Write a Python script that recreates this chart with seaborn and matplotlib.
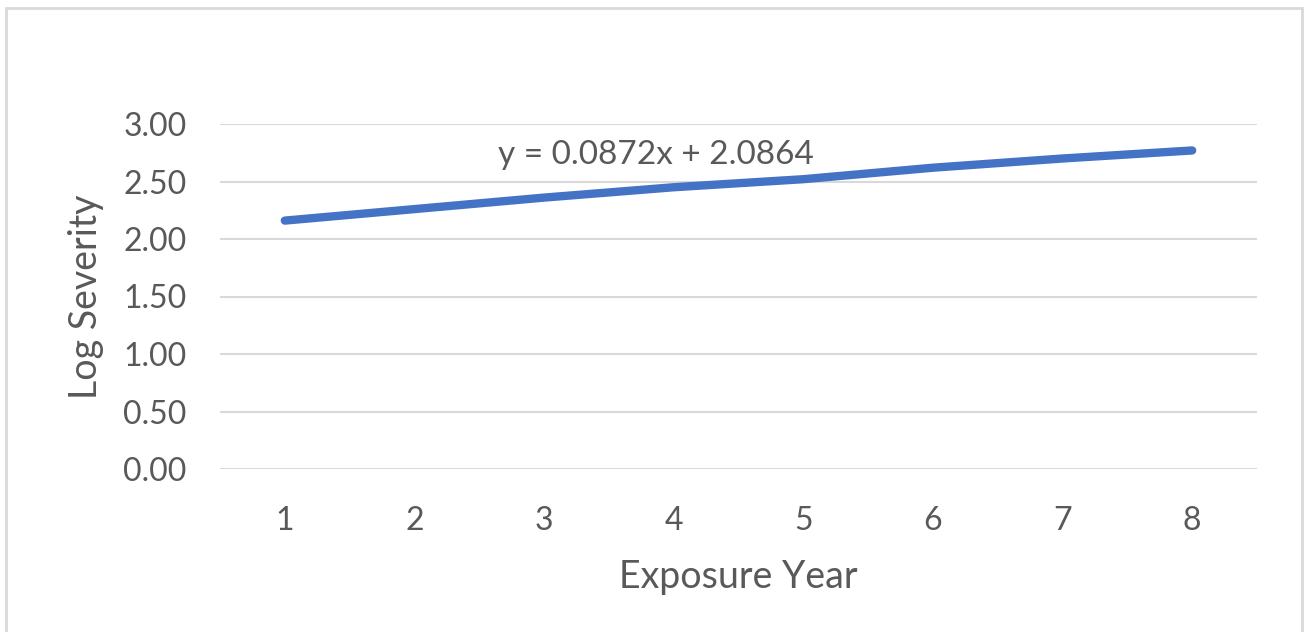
import matplotlib
matplotlib.use("Agg")
import matplotlib.pyplot as plt
import matplotlib.patches as patches
import pandas as pd
import seaborn as sns

exposure_year = [1, 2, 3, 4, 5, 6, 7, 8]
log_severity = [2.16, 2.26, 2.36, 2.45, 2.52, 2.62, 2.70, 2.77]
y_ticks = [0.0, 0.5, 1.0, 1.5, 2.0, 2.5, 3.0]
trend_label = "y = 0.0872x + 2.0864"

sns.set_style("white")
plt.rcParams['font.family'] = ['Lato', 'DejaVu Sans']
text_grey = '#595959'

df = pd.DataFrame({'Exposure Year': exposure_year, 'Log Severity': log_severity})

fig = plt.figure(figsize=(13.04, 6.32), dpi=100)
ax = fig.add_axes([220 / 1304, 1 - 469 / 632, (1257 - 220) / 1304, (469 - 124) / 632])

for yt in y_ticks:
    ax.axhline(yt, color='#D9D9D9', lw=1.5, zorder=0)

sns.lineplot(data=df, x='Exposure Year', y='Log Severity', ax=ax,
             color='#4472C4', lw=6, solid_capstyle='round')

ax.set_xlim(0.5, 8.5)
ax.set_ylim(0, 3.0)
ax.set_xticks(exposure_year)
ax.set_yticks(y_ticks)
ax.set_yticklabels([f'{v:.2f}' for v in y_ticks])
ax.tick_params(axis='both', length=0, labelsize=23, colors=text_grey)
ax.tick_params(axis='x', pad=27)
ax.tick_params(axis='y', pad=24)
for s in ax.spines.values():
    s.set_visible(False)
ax.set_xlabel('Exposure Year', fontsize=27, color=text_grey, labelpad=16)
ax.set_ylabel('Log Severity', fontsize=27, color=text_grey, labelpad=14)

ax.text(3.86, 2.73, trend_label, fontsize=24, color=text_grey, ha='center', va='center')

fig.patches.append(patches.Rectangle((6 / 1304, -0.01), (1302 - 6) / 1304, 1 - 8 / 632 + 0.01,
                                     transform=fig.transFigure, fill=False,
                                     edgecolor='#D9D9D9', lw=2))

fig.savefig('out.png', dpi=100)
